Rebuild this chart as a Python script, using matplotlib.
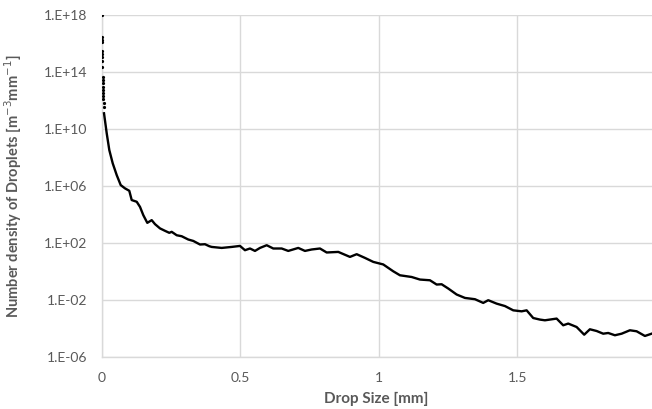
import numpy as np
import matplotlib.pyplot as plt

# early scattered points close to x=0 (drawn as dots only)
dot_x = [0.0, 0.001, 0.0012, 0.0014, 0.0018, 0.002, 0.0022, 0.0025, 0.0028, 0.0032,
         0.0035, 0.0038, 0.0042, 0.0046, 0.005, 0.0055, 0.006, 0.0068, 0.0076]
dot_logy = [18.0, 16.50, 16.26, 16.10, 15.51, 15.28, 15.05, 14.81, 14.39, 13.68,
            13.45, 13.26, 12.98, 12.75, 12.52, 12.33, 12.09, 11.86, 11.57]

# main curve, drop size [mm] vs log10(number density)
size_mm = [0.0083, 0.0181, 0.0274, 0.0397, 0.0542, 0.0686, 0.0841, 0.0996, 0.1083, 0.1264,
           0.1383, 0.1502, 0.1646, 0.1805, 0.1924, 0.2105, 0.2285, 0.2440, 0.2527, 0.2708,
           0.2888, 0.3126, 0.3307, 0.3549, 0.3729, 0.3884, 0.3971, 0.4332, 0.4693, 0.4993,
           0.5173, 0.5354, 0.5534, 0.5715, 0.5957, 0.6195, 0.6498, 0.6736, 0.7097, 0.7339,
           0.7581, 0.7881, 0.8123, 0.8542, 0.8964, 0.9206, 0.9505, 0.9805, 1.0166, 1.0527,
           1.0769, 1.1191, 1.1491, 1.1852, 1.2094, 1.2274, 1.2513, 1.2816, 1.3116, 1.3477,
           1.3776, 1.3957, 1.4260, 1.4560, 1.4859, 1.5162, 1.5343, 1.5581, 1.5823, 1.6004,
           1.6426, 1.6664, 1.6845, 1.7148, 1.7422, 1.7628, 1.7870, 1.8108, 1.8289, 1.8531,
           1.8773, 1.9072, 1.9314, 1.9614, 1.9856]
log_density = [11.11, 9.70, 8.53, 7.60, 6.77, 6.07, 5.84, 5.67, 5.02, 4.90,
               4.54, 3.96, 3.42, 3.61, 3.33, 3.03, 2.86, 2.72, 2.79, 2.55,
               2.48, 2.25, 2.15, 1.90, 1.92, 1.78, 1.73, 1.66, 1.73, 1.80,
               1.50, 1.62, 1.45, 1.66, 1.85, 1.62, 1.62, 1.45, 1.66, 1.45,
               1.55, 1.62, 1.34, 1.38, 1.03, 1.22, 0.96, 0.68, 0.50, 0.02,
               -0.26, -0.38, -0.56, -0.61, -0.91, -0.89, -1.19, -1.61, -1.85, -1.94,
               -2.20, -2.01, -2.25, -2.42, -2.72, -2.79, -2.72, -3.26, -3.37, -3.42,
               -3.30, -3.77, -3.65, -3.89, -4.43, -4.05, -4.17, -4.36, -4.31, -4.47,
               -4.36, -4.12, -4.19, -4.52, -4.36]

yticks = [1e-6, 1e-2, 1e2, 1e6, 1e10, 1e14, 1e18]
ytick_labels = ['1.E-06', '1.E-02', '1.E+02', '1.E+06', '1.E+10', '1.E+14', '1.E+18']
xticks = [0, 0.5, 1, 1.5]
xtick_labels = ['0', '0.5', '1', '1.5']

plt.rcParams['font.family'] = ['Lato', 'DejaVu Sans']
grey = '#595959'

fig = plt.figure(figsize=(6.52, 4.09), dpi=100)
ax = fig.add_axes([0.156, 0.127, 0.844, 0.836])

ax.plot(size_mm, 10.0 ** np.array(log_density), color='black', linewidth=1.7,
        zorder=3)
ax.plot(dot_x, 10.0 ** np.array(dot_logy), linestyle='none', marker='o',
        markersize=1.3, color='black', zorder=3)

ax.set_yscale('log')
ax.set_ylim(1e-6, 1e18)
ax.set_xlim(0, 1.987)
ax.set_yticks(yticks)
ax.set_yticklabels(ytick_labels)
ax.minorticks_off()
ax.set_xticks(xticks)
ax.set_xticklabels(xtick_labels)
ax.tick_params(length=0, labelsize=10, colors=grey)
ax.tick_params(axis='y', pad=10.5)
ax.tick_params(axis='x', pad=11)

ax.grid(True, color='#d9d9d9', linewidth=1)
ax.set_axisbelow(True)
for s in ['top', 'right']:
    ax.spines[s].set_visible(False)
for s in ['left', 'bottom']:
    ax.spines[s].set_color('#d9d9d9')
    ax.spines[s].set_linewidth(1)

ax.set_xlabel('Drop Size [mm]', fontsize=11, fontweight='bold', color=grey)
ax.xaxis.set_label_coords(0.498, -0.102)
ax.set_ylabel('Number density of Droplets [m$^{-3}$mm$^{-1}$]', fontsize=10.5,
              fontweight='bold', color=grey)
ax.yaxis.set_label_coords(-0.141, 0.5)

fig.savefig('out.png', dpi=100)
